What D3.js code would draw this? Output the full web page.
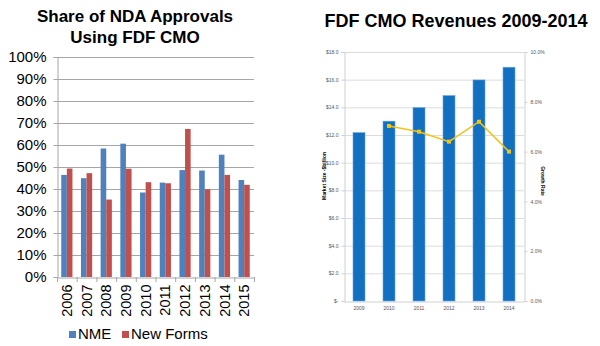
<!DOCTYPE html>
<html>
<head>
<meta charset="utf-8">
<script src="https://cdn.jsdelivr.net/npm/d3@7"></script>
<style>
  body { margin: 0; background: #fff; }
  svg { display: block; font-family: "Liberation Sans", Arial, sans-serif; }
</style>
</head>
<body>
<svg id="chart" width="600" height="346"></svg>
<script>
// left chart data
var years = ["2006", "2007", "2008", "2009", "2010", "2011", "2012", "2013", "2014", "2015"];
var nme = [46.4, 44.9, 58.4, 60.6, 38.4, 42.9, 48.6, 48.4, 55.6, 44.1];
var newForms = [49.3, 47.2, 35.2, 49.2, 43.1, 42.6, 67.3, 39.9, 46.4, 41.9];
var shareTicks = [0, 10, 20, 30, 40, 50, 60, 70, 80, 90, 100];

// right chart data
var revYears = ["2009", "2010", "2011", "2012", "2013", "2014"];
var revenue = [12.17, 13.0, 13.98, 14.85, 15.98, 16.9];
var growth = [null, 7.03, 6.8, 6.4, 7.2, 6.0];
var revTicks = [0, 2, 4, 6, 8, 10, 12, 14, 16, 18];
var growthTicks = [0, 2, 4, 6, 8, 10];

var svg = d3.select("#chart");

function leftChart() {
    var x0 = 57, x1 = 254, yTop = 57, yBot = 277;

    var x = d3.scaleBand().domain(years).range([x0, x1]).paddingInner(0.42).paddingOuter(0.21);
    var y = d3.scaleLinear().domain([0, 100]).range([yBot, yTop]);

    svg.append("text")
        .attr("x", 135).attr("y", 22)
        .attr("text-anchor", "middle")
        .style("font-size", "17px").style("font-weight", "bold")
        .text("Share of NDA Approvals");
    svg.append("text")
        .attr("x", 135).attr("y", 43)
        .attr("text-anchor", "middle")
        .style("font-size", "17px").style("font-weight", "bold")
        .text("Using FDF CMO");

    var g = svg.append("g");

    g.selectAll(".grid")
        .data(shareTicks.slice(1))
        .enter().append("line")
        .attr("x1", x0).attr("x2", x1)
        .attr("y1", function(d) { return y(d) + 0.5; })
        .attr("y2", function(d) { return y(d) + 0.5; })
        .attr("stroke", "#a6a6a6").attr("stroke-width", 1);

    var yAxis = d3.axisLeft(y)
        .tickValues(shareTicks)
        .tickFormat(function(d) { return d + "%"; })
        .tickSize(4).tickPadding(7);

    var ya = g.append("g")
        .attr("transform", "translate(" + (x0 + 0.5) + ",0)")
        .call(yAxis);
    ya.select(".domain").attr("stroke", "#a6a6a6");
    ya.selectAll(".tick line").attr("stroke", "#a6a6a6");
    ya.selectAll("text").style("font-size", "15px").attr("fill", "#000");

    var band = x.step();
    var xAxis = d3.axisBottom(x).tickSize(0).tickPadding(0);
    var xa = g.append("g")
        .attr("transform", "translate(0," + (yBot + 0.5) + ")")
        .call(xAxis);
    xa.select(".domain").attr("stroke", "#a6a6a6");
    xa.selectAll(".tick text")
        .style("font-size", "14.5px").attr("fill", "#000")
        .attr("text-anchor", "end")
        .attr("transform", "rotate(-90)")
        .attr("x", -7).attr("y", 0).attr("dy", "0.35em");
    // category separators
    g.selectAll(".sep")
        .data(d3.range(years.length + 1))
        .enter().append("line")
        .attr("x1", function(i) { return x0 + i * band + 0.5; })
        .attr("x2", function(i) { return x0 + i * band + 0.5; })
        .attr("y1", yBot).attr("y2", yBot + 5)
        .attr("stroke", "#a6a6a6");

    var barW = 5.6;

    g.selectAll(".nme")
        .data(years)
        .enter().append("rect")
        .attr("x", function(d) { return x(d) + x.bandwidth() / 2 - barW; })
        .attr("y", function(d, i) { return y(nme[i]); })
        .attr("width", barW)
        .attr("height", function(d, i) { return yBot - y(nme[i]); })
        .attr("fill", "#4f81bd");

    g.selectAll(".nf")
        .data(years)
        .enter().append("rect")
        .attr("x", function(d) { return x(d) + x.bandwidth() / 2; })
        .attr("y", function(d, i) { return y(newForms[i]); })
        .attr("width", barW)
        .attr("height", function(d, i) { return yBot - y(newForms[i]); })
        .attr("fill", "#c0504d");

    // legend
    var legend = [{name: "NME", color: "#4f81bd", x: 69}, {name: "New Forms", color: "#c0504d", x: 122}];
    var lg = g.selectAll(".legend").data(legend).enter().append("g");
    lg.append("rect")
        .attr("x", function(d) { return d.x; }).attr("y", 331)
        .attr("width", 7).attr("height", 7)
        .attr("fill", function(d) { return d.color; });
    lg.append("text")
        .attr("x", function(d) { return d.x + 9; }).attr("y", 339)
        .style("font-size", "15px")
        .text(function(d) { return d.name; });
}

function rightChart() {
    var x0 = 344, x1 = 524, yTop = 52, yBot = 301;

    var x = d3.scaleBand().domain(revYears).range([x0, x1]).paddingInner(0.6).paddingOuter(0.3);
    var y = d3.scaleLinear().domain([0, 18]).range([yBot, yTop]);
    var y2 = d3.scaleLinear().domain([0, 10]).range([yBot, yTop]);

    svg.append("text")
        .attr("x", 456).attr("y", 27)
        .attr("text-anchor", "middle")
        .style("font-size", "18px").style("font-weight", "bold")
        .text("FDF CMO Revenues 2009-2014");

    var g = svg.append("g");

    g.selectAll(".grid")
        .data(revTicks.slice(1))
        .enter().append("line")
        .attr("x1", x0).attr("x2", x1)
        .attr("y1", function(d) { return y(d) + 0.5; })
        .attr("y2", function(d) { return y(d) + 0.5; })
        .attr("stroke", "#dcdcdc");

    var ya = g.append("g")
        .attr("transform", "translate(" + (x0 + 0.5) + ",0)")
        .call(d3.axisLeft(y).tickValues(revTicks).tickSize(3).tickPadding(3)
            .tickFormat(function(d) { return d === 0 ? "$-" : "$" + d.toFixed(1); }));
    ya.select(".domain").attr("stroke", "#d0d0d0");
    ya.selectAll(".tick line").attr("stroke", "#d0d0d0");
    ya.selectAll("text").style("font-size", "5px").attr("fill", "#555");

    var yb = g.append("g")
        .attr("transform", "translate(" + (x1 + 0.5) + ",0)")
        .call(d3.axisRight(y2).tickValues(growthTicks).tickSize(3).tickPadding(3)
            .tickFormat(function(d) { return d.toFixed(1) + "%"; }));
    yb.select(".domain").attr("stroke", "#d0d0d0");
    yb.selectAll(".tick line").attr("stroke", "#d0d0d0");
    yb.selectAll("text").style("font-size", "5px").attr("fill", "#555");

    var xa = g.append("g")
        .attr("transform", "translate(0," + (yBot + 0.5) + ")")
        .call(d3.axisBottom(x).tickSize(0).tickPadding(5));
    xa.select(".domain").attr("stroke", "#d0d0d0");
    xa.selectAll("text").style("font-size", "5px").attr("fill", "#555");

    g.selectAll(".rev")
        .data(revYears)
        .enter().append("rect")
        .attr("x", function(d) { return x(d); })
        .attr("y", function(d, i) { return y(revenue[i]); })
        .attr("width", x.bandwidth())
        .attr("height", function(d, i) { return yBot - y(revenue[i]); })
        .attr("fill", "#136fbf")
        .attr("stroke", "#6aa5dc").attr("stroke-width", 0.6);

    var pts = revYears.map(function(d, i) { return {year: d, v: growth[i]}; })
        .filter(function(d) { return d.v !== null; });

    var line = d3.line()
        .x(function(d) { return x(d.year) + x.bandwidth() / 2; })
        .y(function(d) { return y2(d.v); });

    g.append("path")
        .datum(pts)
        .attr("d", line)
        .attr("fill", "none")
        .attr("stroke", "#f2c318").attr("stroke-width", 1.5);

    g.selectAll(".mk")
        .data(pts)
        .enter().append("rect")
        .attr("x", function(d) { return x(d.year) + x.bandwidth() / 2 - 2; })
        .attr("y", function(d) { return y2(d.v) - 2; })
        .attr("width", 4).attr("height", 4)
        .attr("fill", "#f2c318");

    g.append("text")
        .attr("transform", "translate(326,176) rotate(-90)")
        .attr("text-anchor", "middle")
        .style("font-size", "5px").style("font-weight", "bold")
        .text("Market Size -$billion");

    g.append("text")
        .attr("transform", "translate(541,181) rotate(90)")
        .attr("text-anchor", "middle")
        .style("font-size", "5px").style("font-weight", "bold")
        .text("Growth Rate");
}

leftChart();
rightChart();
</script>
</body>
</html>
